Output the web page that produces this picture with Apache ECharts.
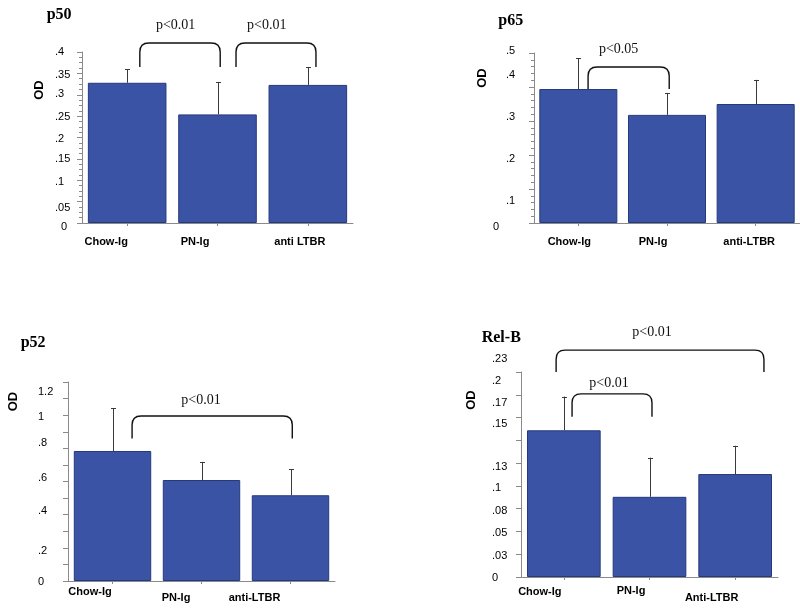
<!DOCTYPE html>
<html><head><meta charset="utf-8">
<script src="https://cdn.jsdelivr.net/npm/echarts@6/dist/echarts.min.js"></script>
<style>html,body{margin:0;padding:0;background:#fff}#c{width:800px;height:610px}</style>
</head><body><div id="c"></div>
<script>
// ---------------- DATA ----------------
const p50Categories = ['Chow-Ig', 'PN-Ig', 'anti LTBR'];
const p50Means = [0.328, 0.254, 0.323];
const p50Errors = [0.032, 0.076, 0.041];
const p50TickLabels = ['0', '.05', '.1', '.15', '.2', '.25', '.3', '.35', '.4'];
const p50PText = ['p<0.01', 'p<0.01'];

const p65Categories = ['Chow-Ig', 'PN-Ig', 'anti-LTBR'];
const p65Means = [0.394, 0.318, 0.350];
const p65Errors = [0.090, 0.063, 0.071];
const p65TickLabels = ['0', '.1', '.2', '.3', '.4', '.5'];
const p65PText = ['p<0.05'];

const p52Categories = ['Chow-Ig', 'PN-Ig', 'anti-LTBR'];
const p52Means = [0.784, 0.609, 0.517];
const p52Errors = [0.259, 0.109, 0.158];
const p52TickLabels = ['0', '', '.2', '', '.4', '', '.6', '', '.8', '', '1', '', '1.2'];
const p52PText = ['p<0.01'];

const relBCategories = ['Chow-Ig', 'PN-Ig', 'Anti-LTBR'];
const relBMeans = [0.161, 0.088, 0.113];
const relBErrors = [0.037, 0.043, 0.031];
const relBTickLabels = ['0', '.03', '.05', '.08', '.1', '.13', '.15', '.17', '.2', '.23'];
const relBPText = ['p<0.01', 'p<0.01'];

// ---------------- LAYOUT / STYLE ----------------
// bracket geometry: [fromCat, toCat, topValue, endValue, textCat, textValue]
const p50BracketGeom = [[0.14, 1.03, 0.421, 0.365, 0.537, 0.463], [1.205, 2.09, 0.421, 0.365, 1.545, 0.463]];
const p65BracketGeom = [[0.11, 1.025, 0.459, 0.394, 0.454, 0.511]];
const p52BracketGeom = [[0.22, 2.02, 0.995, 0.86, 0.994, 1.09]];
const relBBracketGeom = [[-0.09, 2.336, 0.249, 0.225, 1.029, 0.268], [0.096, 1.029, 0.201, 0.176, 0.527, 0.213]];

const panels = [
  { title: 'p50', titlePos: [46.7, 7.3], grid: [82, 52, 271, 171], max: 0.4, interval: 0.05,
    cats: p50Categories, means: p50Means, errs: p50Errors, ticks: p50TickLabels,
    br: p50BracketGeom, pt: p50PText, barW: '87%', minor: 4,
    labelLeft: 55, ydy: [4, 6, 2, 0, 1, 1, -1, 1.5, 0], ydx: [6, 0, 0, 0, 0, 0, 0, 0, 0],
    xdx: [-21, -22.5, -8], xbelow: [18.7, 18.7, 18.7],
    odGap: 36, odShift: 47.5 },
  { title: 'p65', titlePos: [498.3, 13.3], grid: [534, 53, 266, 170], max: 0.5, interval: 0.1,
    cats: p65Categories, means: p65Means, errs: p65Errors, ticks: p65TickLabels,
    br: p65BracketGeom, pt: p65PText, barW: '88%', minor: 5,
    labelLeft: 506, ydy: [4, 12, 4, -4, -12, -2], ydx: [-13, 0, 0, 0, 0, 0],
    xdx: [-9, -14, -6.5], xbelow: [18.7, 18.7, 18.7],
    odGap: 38, odShift: 60 },
  { title: 'p52', titlePos: [20.7, 334.8], grid: [68, 382, 267, 199], max: 1.2, interval: 0.1,
    cats: p52Categories, means: p52Means, errs: p52Errors, ticks: p52TickLabels,
    br: p52BracketGeom, pt: p52PText, barW: '87%', minor: 0,
    labelLeft: 38, ydy: [1, 0, 3, 0, -4, 0, -4, 0, -5, 0, 2, 0, 10], ydx: [],
    xdx: [-22.5, -25.5, -36], xbelow: [10.7, 17.3, 17.3],
    odGap: 48, odShift: 80 },
  { title: 'Rel-B', titlePos: [481.7, 330.3], grid: [521, 372, 257, 205], max: 0.225, interval: 0.025,
    cats: relBCategories, means: relBMeans, errs: relBErrors, ticks: relBTickLabels,
    br: relBBracketGeom, pt: relBPText, barW: '86%', minor: 0,
    labelLeft: 492, ydy: [1, 2, 2, 2, 2, 4, -16, -15, -14, -13], ydx: [],
    xdx: [-24, -18.5, -23.5], xbelow: [14.7, 14, 20.7],
    odGap: 43, odShift: 74.5 }
];

const AXIS = '#8a8a8a';
const SANS = '"Liberation Sans", Arial, sans-serif';
const SERIF = '"Liberation Serif", "Times New Roman", serif';

const option = { animation: false, backgroundColor: '#fff', title: [], grid: [], xAxis: [], yAxis: [], series: [] };

panels.forEach((P, k) => {
  option.title.push({ text: P.title, left: P.titlePos[0], top: P.titlePos[1], padding: 0,
    textStyle: { fontFamily: SERIF, fontWeight: 'bold', fontSize: 16, color: '#000' } });
  option.grid.push({ left: P.grid[0], top: P.grid[1], width: P.grid[2], height: P.grid[3],
    containLabel: false, outerBoundsMode: 'none' });

  // x axis labels with per-category offsets
  const minBelow = Math.min(...P.xbelow);
  const xRich = {};
  P.cats.forEach((c, i) => {
    const dx = P.xdx[i];
    xRich['c' + i] = { fontFamily: SANS, fontWeight: 'bold', fontSize: 11, color: '#000',
      padding: [P.xbelow[i] - minBelow, dx < 0 ? -2 * dx : 0, 0, dx > 0 ? 2 * dx : 0] };
  });
  option.xAxis.push({ type: 'category', gridIndex: k, data: P.cats,
    axisLine: { show: true, lineStyle: { color: AXIS, width: 1 } },
    axisTick: { show: true, alignWithLabel: true, length: 3, lineStyle: { color: AXIS } },
    splitLine: { show: false },
    axisLabel: { interval: 0, hideOverlap: false, margin: minBelow - 5.5, fontFamily: SANS, fontWeight: 'bold', fontSize: 11, color: '#000',
      formatter: (v, i) => '{c' + i + '|' + v + '}', rich: xRich } });

  // y axis labels with per-label offsets
  const minDx = Math.min(0, ...P.ydx.map(v => v || 0));
  const yRich = {};
  P.ticks.forEach((t, i) => {
    const d = P.ydy[i] || 0, h = (P.ydx[i] || 0) - minDx;
    yRich['t' + i] = { fontFamily: SANS, fontSize: 11, color: '#000',
      padding: [d > 0 ? 2 * d : 0, 0, d < 0 ? -2 * d : 0, h] };
  });
  const ticks = P.ticks, itv = P.interval;
  option.yAxis.push({ type: 'value', gridIndex: k, min: 0, max: P.max, interval: P.interval,
    axisLine: { show: true, lineStyle: { color: AXIS, width: 1 } },
    axisTick: { show: true, length: 5, lineStyle: { color: AXIS } },
    minorTick: { show: P.minor > 0, splitNumber: P.minor || 5, length: 3, lineStyle: { color: AXIS } },
    splitLine: { show: false }, minorSplitLine: { show: false },
    axisLabel: { show: true, showMinLabel: true, showMaxLabel: true, hideOverlap: false,
      align: 'left', margin: P.grid[0] - (P.labelLeft + minDx), fontFamily: SANS, fontSize: 11, color: '#000',
      formatter: v => { const i = Math.round(v / itv); const s = ticks[i]; return s ? '{t' + i + '|' + s + '}' : ''; },
      rich: yRich },
    name: '{o|OD}', nameLocation: 'middle', nameRotate: 90, nameGap: P.odGap,
    nameTextStyle: { fontFamily: SANS, fontWeight: 'bold', fontSize: 13, color: '#000',
      rich: { o: { fontFamily: SANS, fontWeight: 'bold', fontSize: 13, color: '#000', padding: [0, 0, 0, 2 * P.odShift] } } } });

  // bars
  option.series.push({ type: 'bar', xAxisIndex: k, yAxisIndex: k, data: P.means, barWidth: P.barW,
    itemStyle: { color: '#3a53a4', borderColor: '#26397d', borderWidth: 1 }, z: 2 });

  // error bars
  option.series.push({ type: 'custom', xAxisIndex: k, yAxisIndex: k, clip: false, z: 3, silent: true,
    data: P.means.map((m, i) => [i, m, m + P.errs[i]]),
    encode: { x: 0, y: [1, 2] },
    renderItem: (params, api) => {
      const i = api.value(0);
      const p0 = api.coord([i, api.value(1)]);
      const p1 = api.coord([i, api.value(2)]);
      const x = Math.round(p0[0]) + 0.5;
      return { type: 'group', children: [
        { type: 'line', shape: { x1: x, y1: p0[1], x2: x, y2: p1[1] }, style: { stroke: '#3a3a3a', lineWidth: 1 } },
        { type: 'line', shape: { x1: x - 2.5, y1: Math.round(p1[1]) + 0.5, x2: x + 2.5, y2: Math.round(p1[1]) + 0.5 }, style: { stroke: '#3a3a3a', lineWidth: 1 } }
      ] };
    } });

  // significance brackets
  const geoms = P.br, texts = P.pt;
  option.series.push({ type: 'custom', xAxisIndex: k, yAxisIndex: k, clip: false, z: 4, silent: true,
    data: geoms.map(g => [0, g[2]]),
    encode: { x: 0, y: 1 },
    renderItem: (params, api) => {
      const g = geoms[params.dataIndex];
      const c0 = api.coord([0, 0])[0], c1 = api.coord([1, 0])[0];
      const xp = f => c0 + f * (c1 - c0);
      const yp = v => api.coord([0, v])[1];
      const x1 = xp(g[0]), x2 = xp(g[1]), yt = yp(g[2]), ye = yp(g[3]);
      const r = 9;
      const d = 'M' + x1 + ' ' + ye + ' L' + x1 + ' ' + (yt + r) + ' Q' + x1 + ' ' + yt + ' ' + (x1 + r) + ' ' + yt +
        ' L' + (x2 - r) + ' ' + yt + ' Q' + x2 + ' ' + yt + ' ' + x2 + ' ' + (yt + r) + ' L' + x2 + ' ' + ye;
      return { type: 'group', children: [
        { type: 'path', shape: { pathData: d }, style: { stroke: '#111', lineWidth: 1.4, fill: null } },
        { type: 'text', x: xp(g[4]), y: yp(g[5]),
          style: { text: texts[params.dataIndex], font: '14px ' + SERIF, fill: '#111', align: 'center', verticalAlign: 'middle' } }
      ] };
    } });
});

const chart = echarts.init(document.getElementById('c'), null, { renderer: 'canvas' });
chart.setOption(option);
</script></body></html>
